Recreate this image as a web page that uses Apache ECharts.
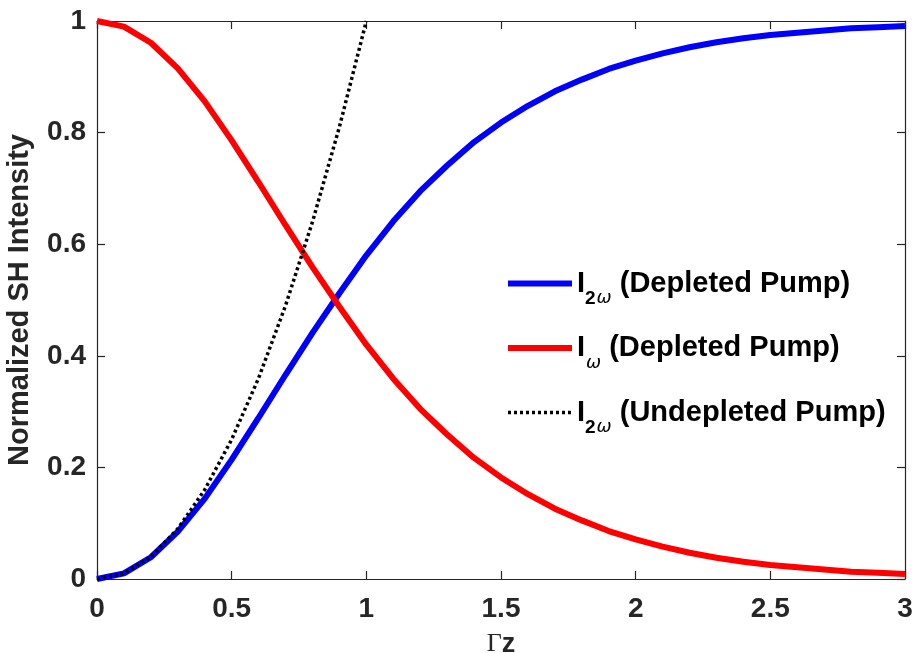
<!DOCTYPE html>
<html>
<head>
<meta charset="utf-8">
<script src="https://cdn.jsdelivr.net/npm/echarts@6/dist/echarts.min.js"></script>
<style>
  html, body { margin: 0; padding: 0; background: #fff; }
  #chart { width: 915px; height: 653px; }
</style>
</head>
<body>
<div id="chart"></div>
<script>
const gammaZ = [0, 0.1, 0.2, 0.3, 0.4, 0.5, 0.6, 0.7, 0.8, 0.9, 1.0,
  1.1, 1.2, 1.3, 1.4, 1.5, 1.6, 1.7, 1.8, 1.9, 2.0,
  2.1, 2.2, 2.3, 2.4, 2.5, 2.6, 2.7, 2.8, 2.9, 3.0]
const shDepleted = [0, 0.01, 0.039, 0.085, 0.144, 0.214, 0.289, 0.366, 0.441, 0.512, 0.58,
  0.641, 0.695, 0.741, 0.783, 0.818, 0.848, 0.874, 0.895, 0.914, 0.929,
  0.942, 0.953, 0.962, 0.969, 0.975, 0.979, 0.983, 0.987, 0.989, 0.991]
const pumpDepleted = [1, 0.99, 0.961, 0.915, 0.856, 0.786, 0.711, 0.634, 0.559, 0.488, 0.42,
  0.359, 0.305, 0.259, 0.217, 0.182, 0.152, 0.126, 0.105, 0.086, 0.071,
  0.058, 0.047, 0.038, 0.031, 0.025, 0.021, 0.017, 0.013, 0.011, 0.009]
const shUndepleted = [0, 0.01, 0.04, 0.09, 0.16, 0.25, 0.36, 0.49, 0.64, 0.81, 1.0]

const labelText = {
  sh: "{i|I}{s|2}{w|ω}{t| (Depleted Pump)}",
  pump: "{i|I}{w|ω}{t| (Depleted Pump)}",
  undepleted: "{i|I}{s|2}{w|ω}{t| (Undepleted Pump)}"
}

const axisColor = "#262626"
const font = "Liberation Sans, Arial, sans-serif"

const chart = echarts.init(document.getElementById("chart"))
const pairs = (ys) => ys.map((v, i) => [gammaZ[i], v])

const boxAxis = {
  axisLine: { show: true, onZero: false, lineStyle: { color: axisColor, width: 1.2 } },
  axisTick: { show: true, inside: true, length: 8, lineStyle: { color: axisColor, width: 1.2 } },
  splitLine: { show: false }
}

chart.setOption({
  animation: false,
  grid: { left: 97, right: 10, top: 21, bottom: 74, outerBoundsMode: "none", containLabel: false },
  xAxis: [
    {
      type: "value", min: 0, max: 3, interval: 0.5,
      ...boxAxis,
      axisLabel: { color: axisColor, fontFamily: font, fontWeight: "bold", fontSize: 28, margin: 16 },
      name: "{g|Γ}{z|z}",
      nameLocation: "middle",
      nameGap: 52,
      nameTextStyle: {
        rich: {
          g: { fontFamily: "Liberation Serif, serif", fontSize: 26, color: axisColor },
          z: { fontFamily: font, fontWeight: "bold", fontSize: 27, color: axisColor }
        }
      }
    },
    { type: "value", min: 0, max: 3, interval: 0.5, position: "top", ...boxAxis, axisLabel: { show: false } }
  ],
  yAxis: [
    {
      type: "value", min: 0, max: 1, interval: 0.2,
      ...boxAxis,
      axisLabel: {
        color: axisColor, fontFamily: font, fontWeight: "bold", fontSize: 28, margin: 11,
        formatter: (v) => String(+v.toFixed(1))
      },
      name: "Normalized SH Intensity",
      nameLocation: "middle",
      nameGap: 63,
      nameTextStyle: { color: axisColor, fontFamily: font, fontWeight: "bold", fontSize: 29 }
    },
    { type: "value", min: 0, max: 1, interval: 0.2, position: "right", ...boxAxis, axisLabel: { show: false } }
  ],
  legend: {
    orient: "vertical",
    left: 500,
    top: 254,
    itemWidth: 64,
    itemHeight: 14,
    itemGap: 16,
    data: [
      { name: "sh", itemStyle: { opacity: 0 }, lineStyle: { width: 6 } },
      { name: "pump", itemStyle: { opacity: 0 }, lineStyle: { width: 6 } },
      { name: "undepleted", itemStyle: { opacity: 0 }, lineStyle: { width: 3.5 } }
    ],
    formatter: (n) => labelText[n],
    textStyle: {
      rich: {
        i: { fontFamily: font, fontWeight: "bold", fontSize: 29, color: "#000", lineHeight: 44 },
        s: { fontFamily: font, fontWeight: "bold", fontSize: 19, color: "#000", padding: [30, 0, 0, 0], lineHeight: 44 },
        w: { fontFamily: "DejaVu Sans, sans-serif", fontStyle: "italic", fontSize: 18, color: "#000", padding: [30, 0, 0, 1], lineHeight: 44 },
        t: { fontFamily: font, fontWeight: "bold", fontSize: 29, color: "#000", lineHeight: 44 }
      }
    }
  },
  series: [
    {
      name: "sh", type: "line", data: pairs(shDepleted),
      showSymbol: false, symbol: "none",
      lineStyle: { color: "#0000ff", width: 6 }, itemStyle: { color: "#0000ff" }, z: 2
    },
    {
      name: "pump", type: "line", data: pairs(pumpDepleted),
      showSymbol: false, symbol: "none",
      lineStyle: { color: "#ff0000", width: 6 }, itemStyle: { color: "#ff0000" }, z: 3
    },
    {
      name: "undepleted", type: "line", data: pairs(shUndepleted),
      showSymbol: false, symbol: "none",
      lineStyle: { color: "#000000", width: 3.5, type: [3, 3] }, itemStyle: { color: "#000000" }, z: 4
    }
  ]
})
</script>
</body>
</html>
